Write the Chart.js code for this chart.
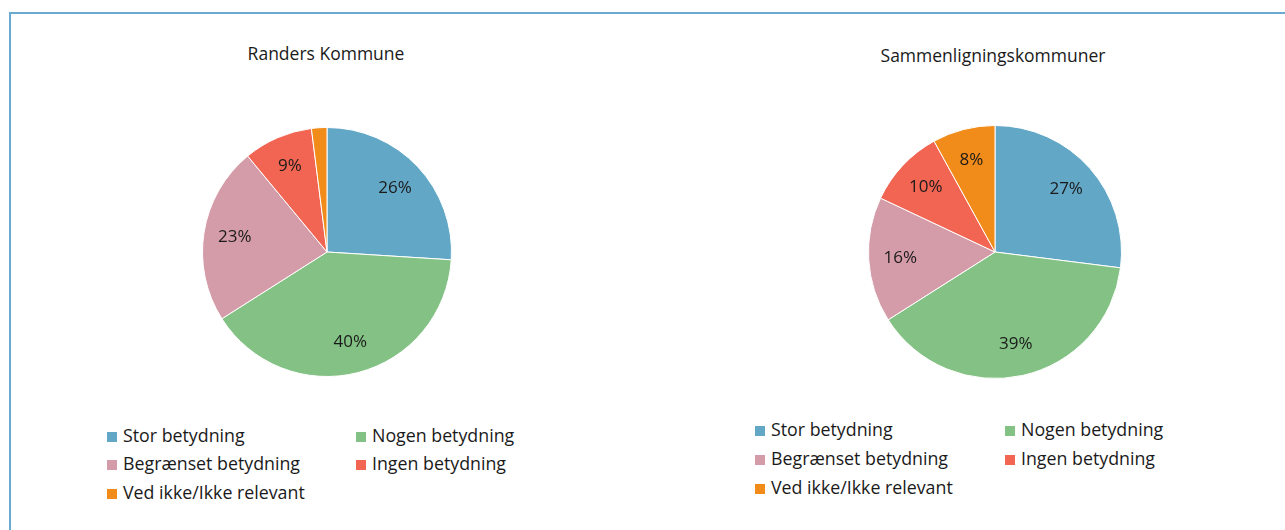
<!DOCTYPE html>
<html>
<head>
<meta charset="utf-8">
<script src="https://cdn.jsdelivr.net/npm/chart.js@4.4.1/dist/chart.umd.min.js"></script>
<style>
    body { margin: 0; width: 1285px; height: 530px; background: #fff; overflow: hidden; position: relative; font-family: 'Open Sans', sans-serif; color: #1a1a1a; }
    .frame { position: absolute; left: 9px; top: 12px; width: 1300px; height: 540px; border: 2px solid #6aaad0; box-sizing: border-box; }
    .title { position: absolute; font-size: 17.5px; transform: translateX(-50%); white-space: nowrap; line-height: 22px; }
    .pie { position: absolute; }
    .legend-item { position: absolute; font-size: 17.8px; white-space: nowrap; line-height: 20px; }
    .legend-item span { display: inline-block; width: 10px; height: 10px; margin-right: 6px; vertical-align: 0px; }
</style>
</head>
<body>
<div class="frame"></div>
<div class="title" style="left:326px; top:42px;">Randers Kommune</div>
<div class="title" style="left:993px; top:44px;">Sammenligningskommuner</div>
<div class="pie" style="left:202px; top:127px; width:250px; height:250px;"><canvas id="pie1"></canvas></div>
<div class="pie" style="left:868px; top:125px; width:254px; height:254px;"><canvas id="pie2"></canvas></div>
<div id="legend1"></div>
<div id="legend2"></div>

<script>
const categories = ['Stor betydning', 'Nogen betydning', 'Begrænset betydning', 'Ingen betydning', 'Ved ikke/Ikke relevant'];
const randersValues = [26, 40, 23, 9, 2];
const sammenligningValues = [27, 39, 16, 10, 8];
const colors = ['#63a7c7', '#83c284', '#d49ba8', '#f26553', '#f18b19'];

// percentage labels inside the slices
const sliceLabels = {
    id: 'sliceLabels',
    afterDatasetsDraw(chart) {
        const ctx = chart.ctx;
        const values = chart.data.datasets[0].data;
        ctx.save();
        ctx.font = '17px "Open Sans"';
        ctx.fillStyle = '#1a1a1a';
        ctx.textAlign = 'center';
        ctx.textBaseline = 'middle';
        chart.getDatasetMeta(0).data.forEach(function(arc, i) {
            if (values[i] < 5) return;
            const p = arc.getProps(['x', 'y', 'startAngle', 'endAngle', 'outerRadius'], true);
            const mid = (p.startAngle + p.endAngle) / 2;
            const r = p.outerRadius * 0.75;
            ctx.fillText(values[i] + '%', p.x + Math.cos(mid) * r, p.y + Math.sin(mid) * r);
        });
        ctx.restore();
    }
};

function createPie(id, values) {
    const ctx = document.getElementById(id).getContext('2d');
    return new Chart(ctx, {
        type: 'pie',
        data: {
            labels: categories,
            datasets: [{
                data: values,
                backgroundColor: colors,
                borderColor: '#ffffff',
                borderWidth: 1,
                hoverOffset: 0
            }]
        },
        options: {
            responsive: true,
            maintainAspectRatio: false,
            animation: false,
            layout: { padding: 0 },
            plugins: {
                legend: { display: false },
                tooltip: { enabled: false }
            }
        },
        plugins: [sliceLabels]
    });
}

function buildLegend(id, left, col2, rows) {
    const box = document.getElementById(id);
    categories.forEach(function(name, i) {
        const item = document.createElement('div');
        item.className = 'legend-item';
        item.style.left = (i % 2 === 0 ? left : col2) + 'px';
        item.style.top = (rows[Math.floor(i / 2)] - 10) + 'px';
        item.innerHTML = '<span style="background:' + colors[i] + '"></span>' + name;
        box.appendChild(item);
    });
}

createPie('pie1', randersValues);
createPie('pie2', sammenligningValues);
buildLegend('legend1', 107, 356, [435, 463, 492]);
buildLegend('legend2', 755, 1005, [429, 458, 487]);
</script>
</body>
</html>
